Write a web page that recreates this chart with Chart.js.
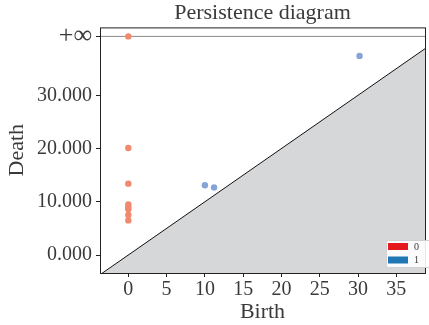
<!DOCTYPE html>
<html>
<head>
<meta charset="utf-8">
<script src="https://cdn.jsdelivr.net/npm/chart.js@4.4.1/dist/chart.umd.min.js"></script>
<style>
  html, body { margin: 0; padding: 0; background: #ffffff; }
  #wrap { width: 429px; height: 325px; }
</style>
</head>
<body>
<div id="wrap"><canvas id="pd" width="429" height="325"></canvas></div>
<script>
// H0 points (birth, death); Infinity = never dies
const h0Births = [0, 0, 0, 0, 0, 0, 0, 0];
const h0Deaths = [Infinity, 20.1, 13.4, 9.5, 9.0, 8.6, 7.5, 6.5];
// H1 points
const h1Births = [10.0, 11.2, 30.2];
const h1Deaths = [13.1, 12.7, 37.4];

const xTicks = [0, 5, 10, 15, 20, 25, 30, 35];
const yTicks = [0, 10, 20, 30];
const legendLabels = ['0', '1'];

const infY = 41.06;
const xMin = -3.7, xMax = 38.75;
const yMin = -3.38, yMax = 42.75;

const fontFamily = "'Liberation Serif', 'DejaVu Serif', serif";
const textColor = '#3a3a3a';

function toPoints(births, deaths) {
    return births.map((b, i) => ({ x: b, y: deaths[i] === Infinity ? infY : deaths[i] }));
}

// frame around plot + small legend box in the lower right corner
const framePlugin = {
    id: 'frame',
    afterDraw(chart) {
        const ctx = chart.ctx;
        const a = chart.chartArea;
        ctx.save();
        ctx.strokeStyle = '#222';
        ctx.lineWidth = 1;
        ctx.strokeRect(a.left + 0.5, a.top + 0.5, a.right - a.left, a.bottom - a.top);

        const bx = a.right - 39, by = a.bottom - 33;
        ctx.fillStyle = 'rgba(255,255,255,0.9)';
        ctx.strokeStyle = '#d0d0d0';
        ctx.beginPath();
        ctx.roundRect(bx + 0.5, by + 0.5, 45, 27, 2);
        ctx.fill();
        ctx.stroke();

        const colors = ['#e41a1c', '#1f78b4'];
        ctx.font = "10px " + fontFamily;
        ctx.textBaseline = 'middle';
        legendLabels.forEach((lab, i) => {
            const y = by + 3 + i * 13.5;
            ctx.fillStyle = colors[i];
            ctx.fillRect(bx + 2, y, 20, 7);
            ctx.fillStyle = textColor;
            ctx.fillText(lab, bx + 28, y + 4);
        });
        ctx.restore();
    }
};

new Chart(document.getElementById('pd'), {
    type: 'scatter',
    data: {
        datasets: [
            {
                label: '0',
                data: toPoints(h0Births, h0Deaths),
                backgroundColor: '#f0896e',
                borderWidth: 0,
                pointRadius: 3.2
            },
            {
                label: '1',
                data: toPoints(h1Births, h1Deaths),
                backgroundColor: '#86a4d6',
                borderWidth: 0,
                pointRadius: 3.2
            },
            {
                label: 'inf',
                type: 'line',
                data: [{ x: xMin, y: infY }, { x: xMax, y: infY }],
                borderColor: '#8a8a8a',
                borderWidth: 1,
                pointRadius: 0
            },
            {
                label: 'diag',
                type: 'line',
                data: [{ x: xMin, y: xMin }, { x: xMax, y: xMax }],
                borderColor: '#111',
                borderWidth: 1,
                backgroundColor: '#d6d7d9',
                fill: 'start',
                pointRadius: 0
            }
        ]
    },
    options: {
        responsive: false,
        animation: false,
        layout: { padding: { left: 0, right: 0, top: 0, bottom: 0 } },
        plugins: {
            legend: { display: false },
            tooltip: { enabled: false },
            title: {
                display: true,
                text: 'Persistence diagram',
                fullSize: false,
                color: textColor,
                font: { family: fontFamily, size: 22, weight: 'normal' },
                padding: { top: 0, bottom: 1 }
            }
        },
        scales: {
            x: {
                type: 'linear',
                min: xMin,
                max: xMax,
                afterBuildTicks: s => { s.ticks = xTicks.map(v => ({ value: v })); },
                afterFit: s => { s.height = 52; },
                border: { display: false },
                grid: { drawOnChartArea: false, tickLength: 4, color: '#222' },
                ticks: { color: textColor, padding: 1, font: { family: fontFamily, size: 20 } },
                title: {
                    display: true, text: 'Birth', color: textColor,
                    font: { family: fontFamily, size: 22 }, padding: 0
                }
            },
            y: {
                type: 'linear',
                min: yMin,
                max: yMax,
                afterBuildTicks: s => { s.ticks = yTicks.concat([infY]).map(v => ({ value: v })); },
                afterFit: s => { s.width = 100; },
                border: { display: false },
                grid: { drawOnChartArea: false, tickLength: 4, color: '#222' },
                ticks: {
                    color: textColor, padding: 4,
                    font: c => ({ family: fontFamily, size: (c.tick && c.tick.value === infY) ? 26 : 20 }),
                    callback: v => v === infY ? '+\u221e' : v.toFixed(3)
                },
                title: {
                    display: true, text: 'Death', color: textColor,
                    font: { family: fontFamily, size: 22 }, padding: { top: 4, bottom: 0 }
                }
            }
        }
    },
    plugins: [framePlugin]
});
</script>
</body>
</html>
